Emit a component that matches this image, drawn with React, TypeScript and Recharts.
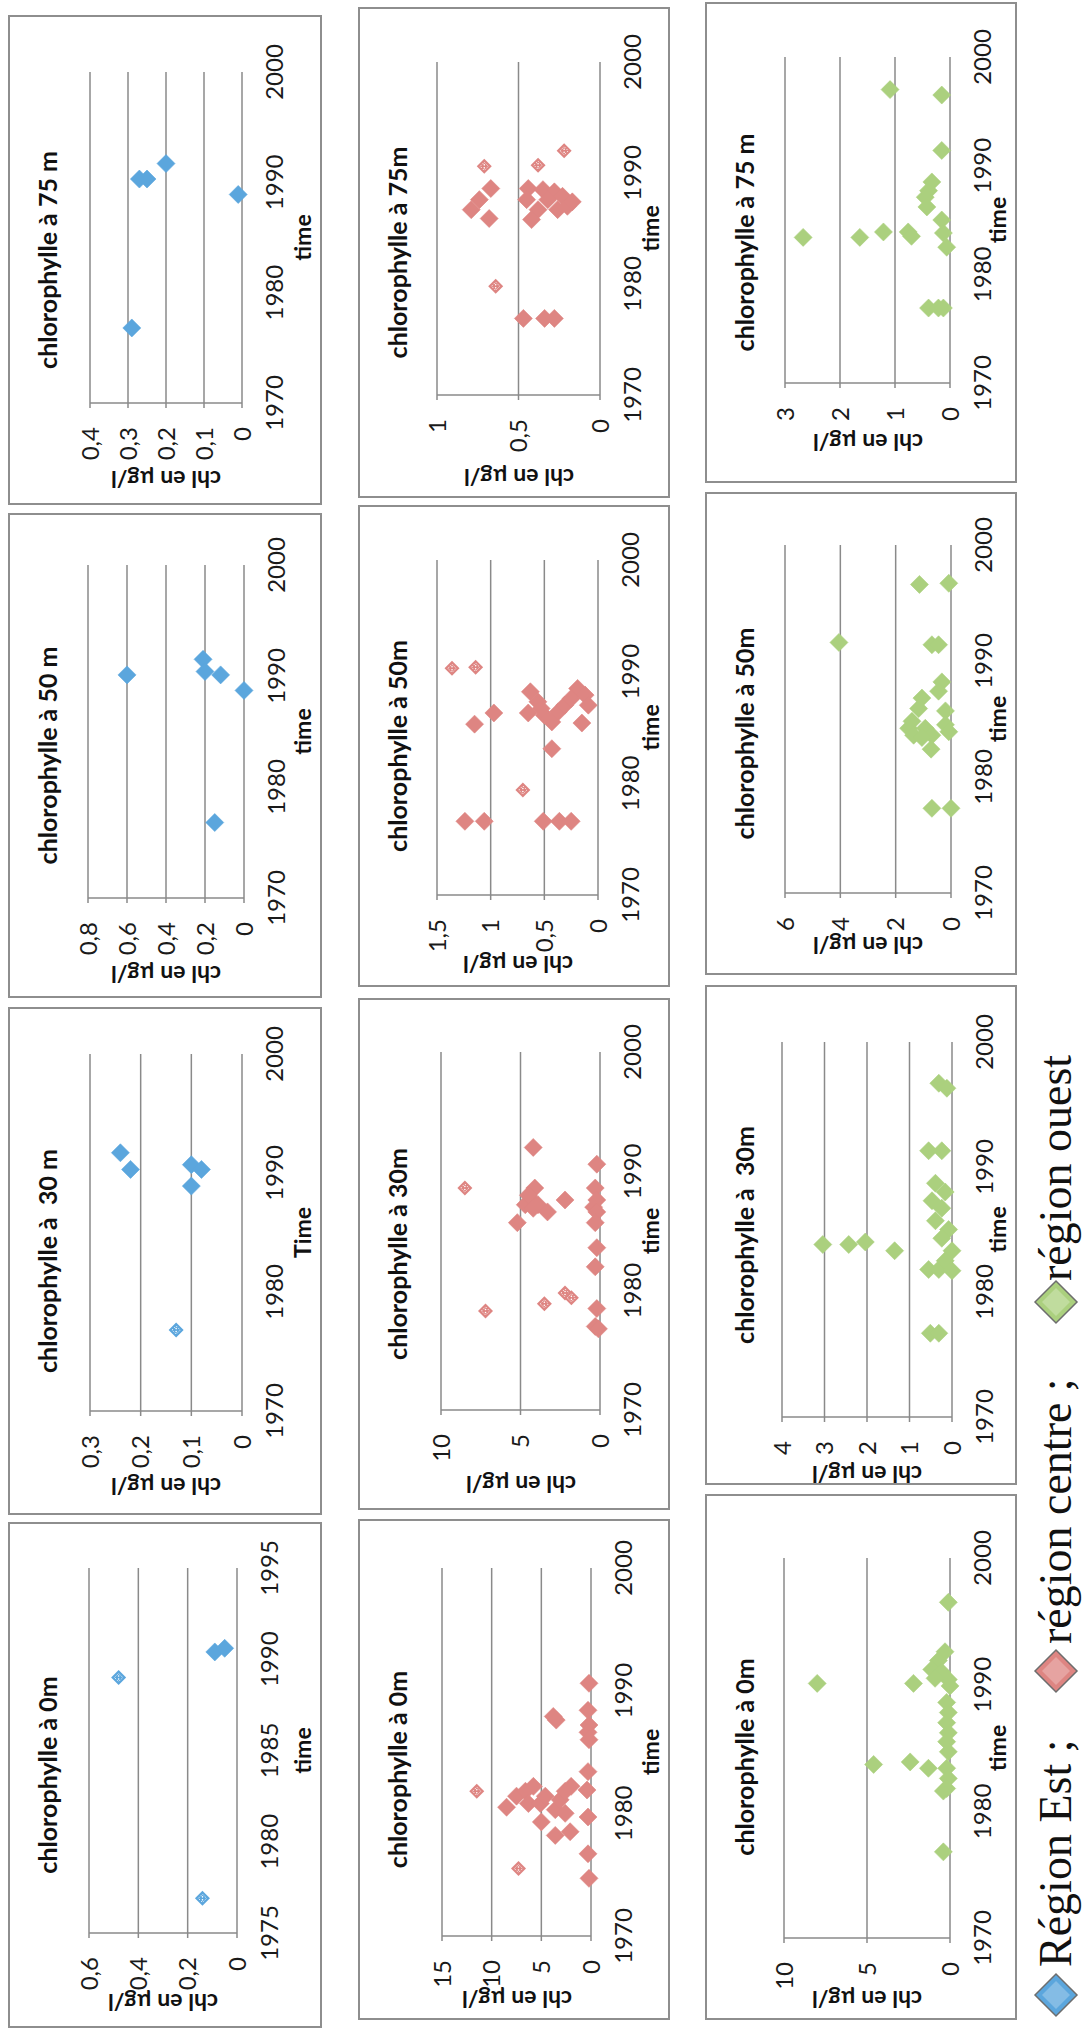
import React from "react";
import { ScatterChart, Scatter, XAxis, YAxis, CartesianGrid } from "recharts";

type Pt = [number, number];

// Région Est (blue) : [year, chl µg/l]
const est0: Pt[] = [[1990.4, 0.09], [1990.6, 0.05]];
const est0Hatch: Pt[] = [[1989.0, 0.48], [1976.9, 0.14]];
const est30: Pt[] = [[1991.7, 0.24], [1990.3, 0.22], [1990.7, 0.1], [1990.3, 0.08], [1988.9, 0.1]];
const est30Hatch: Pt[] = [[1976.8, 0.13]];
const est50: Pt[] = [[1990.1, 0.6], [1991.5, 0.21], [1990.4, 0.2], [1990.1, 0.12], [1988.7, 0.0], [1976.8, 0.15]];
const est75: Pt[] = [[1976.8, 0.29], [1990.3, 0.27], [1990.3, 0.25], [1991.7, 0.2], [1988.9, 0.01]];

// Région centre (red)
const centre0: Pt[] = [
  [1980.5, 8.5], [1981.4, 7.5], [1981.8, 6.6], [1982.2, 5.8], [1980.8, 6.3], [1980.8, 5.1],
  [1981.4, 4.6], [1979.3, 5.0], [1980.3, 3.6], [1981.1, 3.1], [1981.8, 2.6], [1982.2, 2.0],
  [1978.2, 3.6], [1978.5, 2.1], [1980.0, 2.6], [1987.9, 3.8], [1987.6, 3.5],
  [1990.6, 0.2], [1988.4, 0.3], [1987.2, 0.2], [1986.6, 0.3], [1986.0, 0.2], [1983.4, 0.3],
  [1981.9, 0.4], [1979.7, 0.3], [1976.7, 0.3], [1974.7, 0.2],
];
const centre0Hatch: Pt[] = [[1981.8, 11.5], [1975.5, 7.3]];
const centre30: Pt[] = [
  [1992.0, 4.2], [1985.7, 5.2], [1988.6, 4.1], [1987.2, 4.7], [1987.6, 4.3], [1987.2, 3.9],
  [1986.6, 3.3], [1987.6, 2.2], [1988.0, 4.5], [1986.9, 4.2],
  [1990.6, 0.2], [1988.6, 0.3], [1987.6, 0.2], [1987.0, 0.4], [1986.6, 0.2], [1985.7, 0.3],
  [1983.6, 0.2], [1982.0, 0.3], [1978.5, 0.2], [1977.0, 0.3], [1976.8, 0.1],
];
const centre30Hatch: Pt[] = [[1988.6, 8.5], [1978.3, 7.2], [1978.9, 3.5], [1979.8, 2.2], [1979.4, 1.8]];
const centre50: Pt[] = [
  [1985.3, 1.15], [1986.3, 0.97], [1976.6, 1.24], [1976.6, 1.06], [1983.1, 0.43], [1976.6, 0.51],
  [1976.6, 0.36], [1976.6, 0.25], [1986.3, 0.65], [1988.2, 0.63], [1987.3, 0.56], [1986.1, 0.5],
  [1985.5, 0.43], [1986.4, 0.37], [1987.0, 0.31], [1988.5, 0.19], [1987.9, 0.12], [1985.4, 0.15],
  [1987.6, 0.25], [1986.7, 0.53], [1987.0, 0.09],
];
const centre50Hatch: Pt[] = [[1990.3, 1.36], [1990.4, 1.14], [1979.4, 0.7]];
const centre75: Pt[] = [
  [1988.6, 0.67], [1987.6, 0.74], [1986.7, 0.79], [1985.9, 0.68], [1976.9, 0.47], [1976.9, 0.34],
  [1976.9, 0.28], [1988.6, 0.44], [1987.6, 0.45], [1988.5, 0.35], [1986.7, 0.38], [1985.8, 0.42],
  [1988.3, 0.28], [1987.9, 0.23], [1987.0, 0.2], [1987.4, 0.17], [1987.6, 0.32], [1986.7, 0.26],
];
const centre75Hatch: Pt[] = [[1990.6, 0.71], [1979.8, 0.64], [1990.7, 0.38], [1992.0, 0.22]];

// Région ouest (green)
const ouest0: Pt[] = [
  [1990.1, 8.0], [1990.1, 2.2], [1983.7, 4.6], [1983.9, 2.4], [1983.4, 1.3], [1981.6, 0.4],
  [1976.8, 0.4], [1996.5, 0.1], [1992.6, 0.3], [1991.9, 0.7], [1991.2, 1.1], [1991.0, 0.5],
  [1990.4, 0.1], [1990.5, 0.9], [1989.9, 0.0], [1988.6, 0.2], [1987.8, 0.1], [1987.0, 0.2],
  [1986.2, 0.1], [1985.5, 0.2], [1984.7, 0.1], [1983.4, 0.2], [1982.6, 0.1], [1981.8, 0.2],
];
const ouest30: Pt[] = [
  [1983.8, 3.04], [1983.8, 2.43], [1984.0, 2.04], [1983.3, 1.35], [1976.7, 0.51], [1976.7, 0.31],
  [1981.8, 0.55], [1981.8, 0.31], [1991.3, 0.55], [1991.3, 0.24], [1996.7, 0.31], [1996.3, 0.12],
  [1988.7, 0.39], [1988.0, 0.16], [1987.3, 0.47], [1986.7, 0.24], [1985.7, 0.39], [1985.0, 0.08],
  [1984.3, 0.24], [1983.3, 0.0], [1982.5, 0.16], [1981.7, 0.0],
];
const ouest50: Pt[] = [
  [1991.6, 4.05], [1996.6, 1.14], [1996.7, 0.08], [1991.4, 0.69], [1991.4, 0.45], [1988.2, 0.33],
  [1987.4, 0.45], [1986.8, 1.05], [1985.9, 1.17], [1984.8, 1.41], [1984.2, 1.53], [1984.2, 0.93],
  [1983.6, 0.69], [1982.4, 0.72], [1985.7, 0.2], [1984.5, 0.2], [1983.9, 0.08], [1977.3, 0.69],
  [1977.3, 0.0], [1983.6, 1.35], [1983.4, 1.05],
];
const ouest75: Pt[] = [
  [1983.4, 2.67], [1983.4, 1.64], [1983.9, 1.21], [1983.9, 0.76], [1983.5, 0.7], [1997.0, 1.09],
  [1996.5, 0.15], [1991.4, 0.15], [1987.7, 0.39], [1988.5, 0.33], [1987.1, 0.45], [1986.2, 0.42],
  [1985.0, 0.15], [1983.8, 0.12], [1982.5, 0.06], [1976.9, 0.39], [1976.9, 0.21], [1976.9, 0.12],
];

const decades = [1970, 1980, 1990, 2000];
const fiveYears = [1975, 1980, 1985, 1990, 1995];

const legendLabels = ["Région Est ;", "région centre ;", "région ouest"];

const BLUE = "#5ba6dd";
const RED = "#de8582";
const GREEN = "#abd07e";
const GRID = "#8a8a8a";

interface PanelCfg {
  title: string;
  xTitle: string;
  box: [number, number, number, number]; // x0, x1, y0, y1 (unrotated page)
  plot: [number, number, number, number];
  yGap: number;
  xTicks: number[];
  yTicks: number[];
  pts: Pt[];
  hatch: Pt[];
  color: string;
}

const panels: PanelCfg[] = [
  { title: "chlorophylle à 0m", xTitle: "time", box: [2, 508, 8, 322], plot: [97, 462, 89, 237], yGap: 70, xTicks: fiveYears, yTicks: [0, 0.2, 0.4, 0.6], pts: est0, hatch: est0Hatch, color: BLUE },
  { title: "chlorophylle à  30 m", xTitle: "Time", box: [515, 1023, 8, 322], plot: [619, 976, 90, 242], yGap: 76, xTicks: decades, yTicks: [0, 0.1, 0.2, 0.3], pts: est30, hatch: est30Hatch, color: BLUE },
  { title: "chlorophylle à 50 m", xTitle: "time", box: [1032, 1517, 8, 322], plot: [1132, 1465, 88, 244], yGap: 77, xTicks: decades, yTicks: [0, 0.2, 0.4, 0.6, 0.8], pts: est50, hatch: [], color: BLUE },
  { title: "chlorophylle à 75 m", xTitle: "time", box: [1525, 2015, 8, 322], plot: [1627, 1958, 90, 242], yGap: 77, xTicks: decades, yTicks: [0, 0.1, 0.2, 0.3, 0.4], pts: est75, hatch: [], color: BLUE },

  { title: "chlorophylle à 0m", xTitle: "time", box: [10, 511, 358, 670], plot: [94, 462, 442, 591], yGap: 64, xTicks: decades, yTicks: [0, 5, 10, 15], pts: centre0, hatch: centre0Hatch, color: RED },
  { title: "chlorophylle à 30m", xTitle: "time", box: [520, 1032, 358, 670], plot: [620, 978, 441, 600], yGap: 75, xTicks: decades, yTicks: [0, 5, 10], pts: centre30, hatch: centre30Hatch, color: RED },
  { title: "chlorophylle à 50m", xTitle: "time", box: [1043, 1525, 358, 670], plot: [1135, 1470, 437, 598], yGap: 70, xTicks: decades, yTicks: [0, 0.5, 1, 1.5], pts: centre50, hatch: centre50Hatch, color: RED },
  { title: "chlorophylle à 75m", xTitle: "time", box: [1532, 2023, 358, 670], plot: [1635, 1968, 437, 600], yGap: 83, xTicks: decades, yTicks: [0, 0.5, 1], pts: centre75, hatch: centre75Hatch, color: RED },

  { title: "chlorophylle à 0m", xTitle: "time", box: [10, 536, 705, 1017], plot: [92, 472, 784, 950], yGap: 62, xTicks: decades, yTicks: [0, 5, 10], pts: ouest0, hatch: [], color: GREEN },
  { title: "chlorophylle à  30m", xTitle: "time", box: [545, 1045, 705, 1017], plot: [613, 988, 782, 952], yGap: 58, xTicks: decades, yTicks: [0, 1, 2, 3, 4], pts: ouest30, hatch: [], color: GREEN },
  { title: "chlorophylle à 50m", xTitle: "time", box: [1055, 1538, 705, 1017], plot: [1137, 1485, 785, 951], yGap: 53, xTicks: decades, yTicks: [0, 2, 4, 6], pts: ouest50, hatch: [], color: GREEN },
  { title: "chlorophylle à 75 m", xTitle: "time", box: [1547, 2028, 705, 1017], plot: [1647, 1973, 785, 950], yGap: 60, xTicks: decades, yTicks: [0, 1, 2, 3], pts: ouest75, hatch: [], color: GREEN },
];

const fmt = (v: number) => String(v).replace(".", ",");

const diamondShape = (color: string, hatched: boolean) => (props: any) => {
  const { cx, cy } = props;
  if (cx == null || cy == null) return <g />;
  const r = hatched ? 7.5 : 9;
  const pts = `${cx},${cy - r} ${cx + r},${cy} ${cx},${cy + r} ${cx - r},${cy}`;
  if (!hatched) {
    return <polygon points={pts} fill={color} stroke={color} strokeOpacity={0.6} strokeWidth={1} />;
  }
  const q = r * 0.55;
  const inner = `${cx},${cy - q} ${cx + q},${cy} ${cx},${cy + q} ${cx - q},${cy}`;
  return (
    <g>
      <polygon points={pts} fill={color} />
      <polygon points={inner} fill="none" stroke="#fff" strokeWidth={0.8} strokeDasharray="1.5 1.5" />
      <circle cx={cx - 1.5} cy={cy} r={0.8} fill="#fff" />
      <circle cx={cx + 1.5} cy={cy} r={0.8} fill="#fff" />
    </g>
  );
};

const textFont = "Lato, 'Open Sans', sans-serif";

function Panel({ p }: { p: PanelCfg }) {
  const [x0, x1, y0, y1] = p.box;
  const [px0, px1, py0, py1] = p.plot;
  const w = x1 - x0;
  const h = y1 - y0;
  const yMax = p.yTicks[p.yTicks.length - 1];
  const tickStyle = { fontSize: 24, fill: "#1a1a1a", fontFamily: textFont };
  const axisTitleX = px0 - x0 - p.yGap;
  const axisTitleY = (py0 + py1) / 2 - y0;
  return (
    <div style={{ position: "absolute", left: x0, top: y0, width: w, height: h, background: "#fff" }}>
      <ScatterChart width={w} height={h} margin={{ top: py0 - y0, right: x1 - px1, left: 0, bottom: 0 }}>
        <CartesianGrid vertical={false} stroke={GRID} strokeWidth={1.5} />
        <XAxis
          type="number"
          dataKey="x"
          domain={[p.xTicks[0], p.xTicks[p.xTicks.length - 1]]}
          ticks={p.xTicks}
          interval={0}
          height={y1 - py1}
          axisLine={false}
          tickLine={false}
          tickSize={0}
          tickMargin={24}
          tick={tickStyle}
        />
        <YAxis
          type="number"
          dataKey="y"
          domain={[0, yMax]}
          ticks={p.yTicks}
          interval={0}
          width={px0 - x0}
          axisLine={{ stroke: GRID, strokeWidth: 1.5 }}
          tickLine={{ stroke: GRID, strokeWidth: 1.5 }}
          tickSize={5}
          tickMargin={19}
          tickFormatter={fmt}
          tick={tickStyle}
        />
        <Scatter data={p.pts.map(([x, y]) => ({ x, y }))} shape={diamondShape(p.color, false)} isAnimationActive={false} />
        {p.hatch.length > 0 && (
          <Scatter data={p.hatch.map(([x, y]) => ({ x, y }))} shape={diamondShape(p.color, true)} isAnimationActive={false} />
        )}
      </ScatterChart>
      <div style={{ position: "absolute", left: 0, top: 39 - 16, width: w, height: 32, lineHeight: "32px", textAlign: "center", fontFamily: textFont, fontWeight: 700, fontSize: 25, color: "#111", whiteSpace: "pre" }}>
        {p.title}
      </div>
      <div style={{ position: "absolute", left: axisTitleX - 100, top: axisTitleY - 15, width: 200, height: 30, lineHeight: "30px", textAlign: "center", transform: "rotate(-90deg)", fontFamily: textFont, fontWeight: 700, fontSize: 23, color: "#111" }}>
        chl en µg/l
      </div>
      <div style={{ position: "absolute", left: (px0 + px1) / 2 - x0 - 100, top: h - 20 - 14, width: 200, height: 28, lineHeight: "28px", textAlign: "center", fontFamily: textFont, fontWeight: 700, fontSize: 23, color: "#111" }}>
        {p.xTitle}
      </div>
      <div style={{ position: "absolute", inset: 0, border: "2px solid #8e8e8e", boxSizing: "border-box", pointerEvents: "none" }} />
    </div>
  );
}

function LegendIcon({ color, x }: { color: string; x: number }) {
  const s = 46;
  return (
    <svg width={s} height={s} style={{ position: "absolute", left: x - s / 2, top: 1056 - s / 2 }}>
      <polygon points={`${s / 2},2 ${s - 2},${s / 2} ${s / 2},${s - 2} 2,${s / 2}`} fill={color} stroke="#6d6d6d" strokeWidth={1.5} />
      <polygon points={`${s / 2},9 ${s - 9},${s / 2} ${s / 2},${s - 9} 9,${s / 2}`} fill="#fff" fillOpacity={0.25} />
    </svg>
  );
}

const legendColors = [BLUE, RED, GREEN];
const legendIconX = [35, 359, 728];
const legendTextX = [55, 378, 741];

export default function App() {
  return (
    <div
      style={{
        position: "absolute",
        left: 0,
        top: 0,
        width: 2030,
        height: 1092,
        background: "#fff",
        transformOrigin: "0 0",
        transform: "rotate(-90deg) translate(-2030px, 0)",
        overflow: "hidden",
      }}
    >
      {panels.map((p, i) => (
        <Panel key={i} p={p} />
      ))}
      {legendLabels.map((t, i) => (
        <React.Fragment key={t}>
          <LegendIcon color={legendColors[i]} x={legendIconX[i]} />
          <div style={{ position: "absolute", left: legendTextX[i] + 8, top: 1056 - 30, height: 60, lineHeight: "60px", fontFamily: "'Liberation Serif', 'DejaVu Serif', serif", fontSize: 46, color: "#111", whiteSpace: "pre" }}>
            {t}
          </div>
        </React.Fragment>
      ))}
    </div>
  );
}
